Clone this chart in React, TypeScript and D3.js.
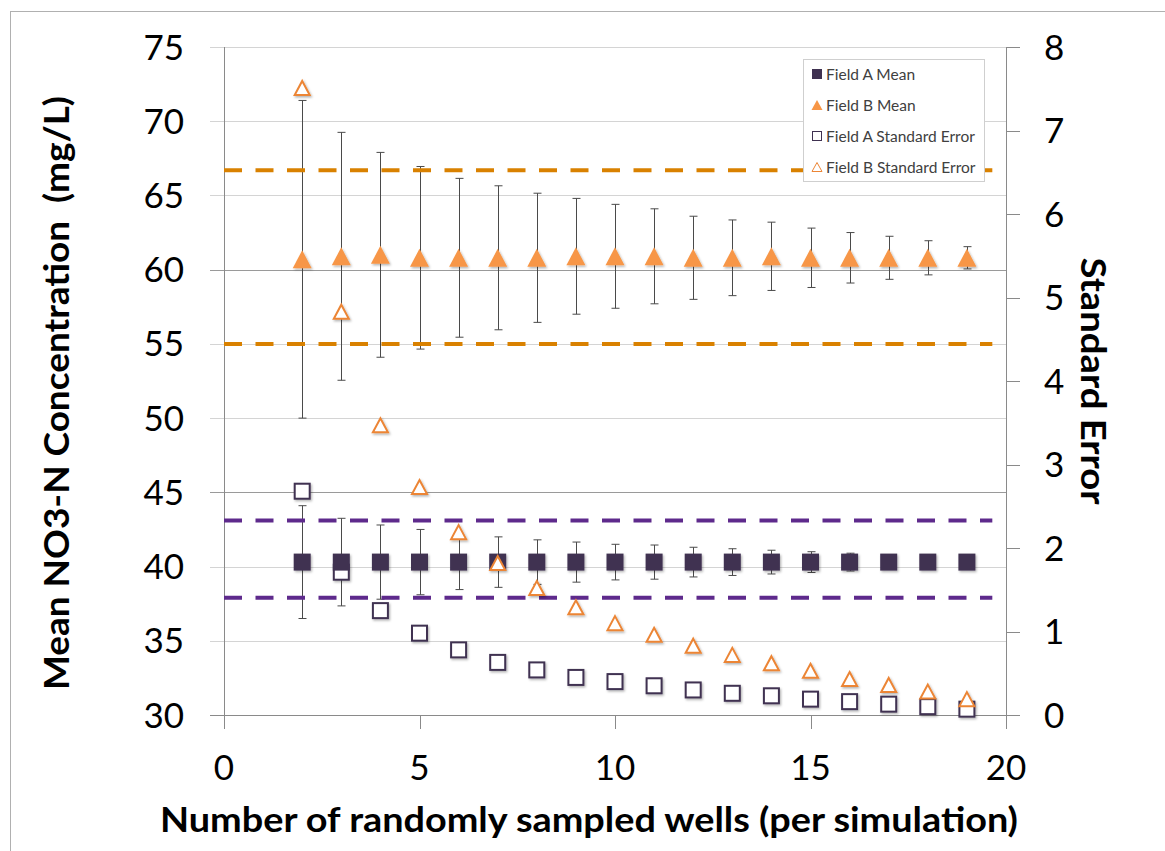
import React from 'react';
import * as d3 from 'd3';

// number of wells sampled per simulation
const wells = [2, 3, 4, 5, 6, 7, 8, 9, 10, 11, 12, 13, 14, 15, 16, 17, 18, 19];

// Field A (left axis, mg/L)
const fieldAMean = [40.3, 40.3, 40.3, 40.3, 40.3, 40.3, 40.3, 40.3, 40.3, 40.3, 40.3, 40.3, 40.3, 40.3, 40.3, 40.3, 40.3, 40.3];
const fieldAErr = [3.8, 2.95, 2.5, 2.2, 1.85, 1.7, 1.5, 1.35, 1.2, 1.15, 1.0, 0.9, 0.8, 0.7, 0.6, 0.4, 0.3, 0.2];
// Field B (left axis, mg/L)
const fieldBMean = [60.7, 60.9, 61.0, 60.8, 60.8, 60.8, 60.8, 60.9, 60.9, 60.9, 60.8, 60.8, 60.9, 60.8, 60.8, 60.8, 60.8, 60.8];
const fieldBErr = [10.7, 8.35, 6.9, 6.15, 5.35, 4.85, 4.35, 3.9, 3.5, 3.2, 2.8, 2.55, 2.3, 2.0, 1.7, 1.45, 1.15, 0.75];
// standard errors (right axis)
const fieldASE = [2.68, 1.71, 1.25, 0.98, 0.78, 0.63, 0.54, 0.45, 0.4, 0.35, 0.3, 0.26, 0.23, 0.19, 0.16, 0.13, 0.1, 0.07];
const fieldBSE = [7.51, 4.83, 3.47, 2.73, 2.19, 1.82, 1.52, 1.29, 1.1, 0.96, 0.83, 0.72, 0.62, 0.53, 0.43, 0.36, 0.28, 0.19];

// dashed reference levels
const fieldALevels = [37.9, 43.1];
const fieldBLevels = [55.0, 66.7];
const levelSpan = [0, 19.65];

const leftTicks = [30, 35, 40, 45, 50, 55, 60, 65, 70, 75];
const rightTicks = [0, 1, 2, 3, 4, 5, 6, 7, 8];
const xTicks = [0, 5, 10, 15, 20];
const darkGrid = [45, 60];
const legendLabels = ['Field A Mean', 'Field B Mean', 'Field A Standard Error', 'Field B Standard Error'];

const purpleDark = '#3F3151';
const orange = '#F79646';
const orangeLine = '#D98100';
const purpleLine = '#5E2A8C';
const axisColor = '#8a8a8a';
const font = 'Lato, "Open Sans", sans-serif';

function triPath(cx, cy, w, h) {
  return `M${cx},${cy - h / 2}L${cx + w / 2},${cy + h / 2}L${cx - w / 2},${cy + h / 2}Z`;
}

export default function App() {
  const x = d3.scaleLinear().domain([0, 20]).range([224, 1006]);
  const yL = d3.scaleLinear().domain([30, 75]).range([715, 47]);
  const yR = d3.scaleLinear().domain([0, 8]).range([715, 47]);

  const errBar = (n, m, e, i, key) => {
    const cx = Math.round(x(n)) + 0.5;
    const top = yL(m + e);
    const bot = yL(m - e);
    return (
      <g key={key + i} stroke="#4a4a4a" strokeWidth={1}>
        <line x1={cx} x2={cx} y1={top} y2={bot} />
        <line x1={cx - 4} x2={cx + 4} y1={top} y2={top} />
        <line x1={cx - 4} x2={cx + 4} y1={bot} y2={bot} />
      </g>
    );
  };

  return (
    <svg width={1165} height={851} style={{ position: 'absolute', left: 0, top: 0, background: '#fff' }}>
      <defs>
        <filter id="shadow" x="-50%" y="-50%" width="200%" height="200%">
          <feDropShadow dx="1.2" dy="1.5" stdDeviation="1.3" floodColor="#000" floodOpacity="0.3" />
        </filter>
      </defs>
      <rect x={10.5} y={11.5} width={1170} height={860} fill="#fff" stroke="#b0b0b0" strokeWidth={1} />

      {/* gridlines */}
      {leftTicks.map(t => (
        <line key={'g' + t} x1={210} x2={t === 30 ? 1020 : 1006} y1={Math.round(yL(t)) + 0.5} y2={Math.round(yL(t)) + 0.5}
          stroke={t === 30 ? axisColor : darkGrid.includes(t) ? '#9a9a9a' : '#d4d4d4'} strokeWidth={1} />
      ))}
      {/* left axis */}
      <line x1={224.5} x2={224.5} y1={47} y2={729} stroke={axisColor} />
      {/* right axis */}
      <line x1={1006.5} x2={1006.5} y1={47} y2={729} stroke={axisColor} />
      {rightTicks.map(t => (
        <line key={'rt' + t} x1={1006} x2={1020} y1={Math.round(yR(t)) + 0.5} y2={Math.round(yR(t)) + 0.5} stroke={axisColor} />
      ))}
      {xTicks.map(t => (
        <line key={'xt' + t} x1={Math.round(x(t)) + 0.5} x2={Math.round(x(t)) + 0.5} y1={715} y2={729} stroke={axisColor} />
      ))}

      {/* tick labels */}
      <g fontFamily={font} fontSize={35} fill="#000">
        {leftTicks.map(t => (
          <text key={'lt' + t} x={184} y={yL(t)} textAnchor="end" dy="0.36em">{t}</text>
        ))}
        {rightTicks.map(t => (
          <text key={'rl' + t} x={1044} y={yR(t)} textAnchor="start" dy="0.36em">{t}</text>
        ))}
        {xTicks.map(t => (
          <text key={'xl' + t} x={x(t)} y={780} textAnchor="middle">{t}</text>
        ))}
      </g>

      {/* axis titles */}
      <g fontFamily={font} fontWeight="bold" fontSize={35} fill="#000">
        <text transform="translate(69,393) rotate(-90)" textAnchor="middle" textLength={594} lengthAdjust="spacingAndGlyphs"
          xmlSpace="preserve" style={{ whiteSpace: 'pre' }}>{'Mean NO3-N Concentration  (mg/L)'}</text>
        <text transform="translate(1081,381) rotate(90)" textAnchor="middle" textLength={247} lengthAdjust="spacingAndGlyphs">Standard Error</text>
        <text x={589} y={832} textAnchor="middle" textLength={858} lengthAdjust="spacingAndGlyphs">Number of randomly sampled wells (per simulation)</text>
      </g>

      {/* error bars */}
      {wells.map((n, i) => errBar(n, fieldBMean[i], fieldBErr[i], i, 'eb'))}
      {wells.map((n, i) => errBar(n, fieldAMean[i], fieldAErr[i], i, 'ea'))}

      {/* dashed reference lines */}
      {fieldBLevels.map(v => (
        <line key={'ob' + v} x1={x(levelSpan[0])} x2={x(levelSpan[1])} y1={yL(v)} y2={yL(v)}
          stroke={orangeLine} strokeWidth={4} strokeDasharray="18 13.5" />
      ))}
      {fieldALevels.map(v => (
        <line key={'pa' + v} x1={x(levelSpan[0])} x2={x(levelSpan[1])} y1={yL(v)} y2={yL(v)}
          stroke={purpleLine} strokeWidth={4} strokeDasharray="18 13.5" />
      ))}

      {/* markers */}
      <g filter="url(#shadow)">
        {wells.map((n, i) => (
          <rect key={'ase' + n} x={x(n) - 7.5} y={yR(fieldASE[i]) - 7.5} width={15} height={15}
            fill="#fff" stroke={purpleDark} strokeWidth={2} />
        ))}
        {wells.map((n, i) => (
          <rect key={'am' + n} x={x(n) - 8.5} y={yL(fieldAMean[i]) - 8.5} width={17} height={17} fill={purpleDark} />
        ))}
        {wells.map((n, i) => (
          <path key={'bm' + n} d={triPath(x(n), yL(fieldBMean[i]), 19, 18)} fill={orange} />
        ))}
        {wells.map((n, i) => (
          <path key={'bse' + n} d={triPath(x(n), yR(fieldBSE[i]), 15, 14)} fill="#fff" stroke="#EC8535" strokeWidth={2} strokeLinejoin="miter" />
        ))}
      </g>

      {/* legend */}
      <rect x={803.5} y={59.5} width={181} height={122} fill="#fff" stroke="#cfcfcf" />
      <g fontFamily={font} fontSize={15.5} fill="#404040">
        {legendLabels.map((lab, i) => {
          const cy = 74 + i * 31;
          let mark;
          if (i === 0) mark = <rect x={812} y={cy - 5} width={10} height={10} fill={purpleDark} />;
          else if (i === 1) mark = <path d={triPath(817, cy, 11, 10)} fill={orange} />;
          else if (i === 2) mark = <rect x={812.5} y={cy - 4.5} width={9} height={9} fill="#fff" stroke={purpleDark} />;
          else mark = <path d={triPath(817, cy, 10, 9)} fill="#fff" stroke="#EC8535" />;
          return (
            <g key={lab}>
              {mark}
              <text x={826} y={cy} dy="0.36em">{lab}</text>
            </g>
          );
        })}
      </g>
    </svg>
  );
}
